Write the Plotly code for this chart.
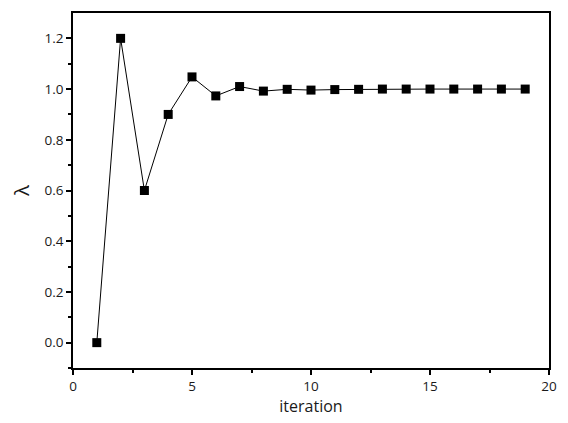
import plotly.graph_objects as go

iterations = list(range(1, 20))
lam = [0.0, 1.2, 0.6, 0.9, 1.048, 0.973, 1.01, 0.992, 0.999, 0.996, 0.998,
       0.999, 1.0, 1.0, 1.0, 1.0, 1.0, 1.0, 1.0]

fig = go.Figure()
fig.add_trace(go.Scatter(
    x=iterations, y=lam, mode="lines+markers",
    line=dict(color="black", width=1),
    marker=dict(symbol="square", size=9, color="black"),
    showlegend=False,
))

font_family = "Open Sans, Lato, sans-serif"
fig.update_layout(
    width=568, height=423,
    margin=dict(l=73, r=11, t=12, b=53),
    paper_bgcolor="white", plot_bgcolor="white",
    font=dict(family=font_family, size=13.5, color="#1a1a1a"),
)
fig.update_xaxes(
    range=[0, 20], tickvals=[0, 5, 10, 15, 20],
    ticks="outside", ticklen=5, tickwidth=1.5, tickcolor="black",
    minor=dict(tickvals=[2.5, 7.5, 12.5, 17.5], ticks="outside", ticklen=3, tickwidth=1.5, tickcolor="black"),
    showline=True, linecolor="black", linewidth=1.5, mirror=True,
    showgrid=False, zeroline=False,
    title=dict(text="iteration", font=dict(size=16), standoff=6),
)
fig.update_yaxes(
    range=[-0.1, 1.3], tickvals=[0.0, 0.2, 0.4, 0.6, 0.8, 1.0, 1.2],
    tickformat=".1f",
    ticks="outside", ticklen=5, tickwidth=1.5, tickcolor="black",
    minor=dict(tickvals=[-0.1, 0.1, 0.3, 0.5, 0.7, 0.9, 1.1], ticks="outside", ticklen=3, tickwidth=1.5, tickcolor="black"),
    showline=True, linecolor="black", linewidth=1.5, mirror=True,
    showgrid=False, zeroline=False,
    title=dict(text="λ", font=dict(size=20), standoff=10),
)

fig.write_html(
    "out.html",
    config={"displayModeBar": False},
    post_script="document.body.style.margin='0';document.body.style.overflow='hidden';",
)
